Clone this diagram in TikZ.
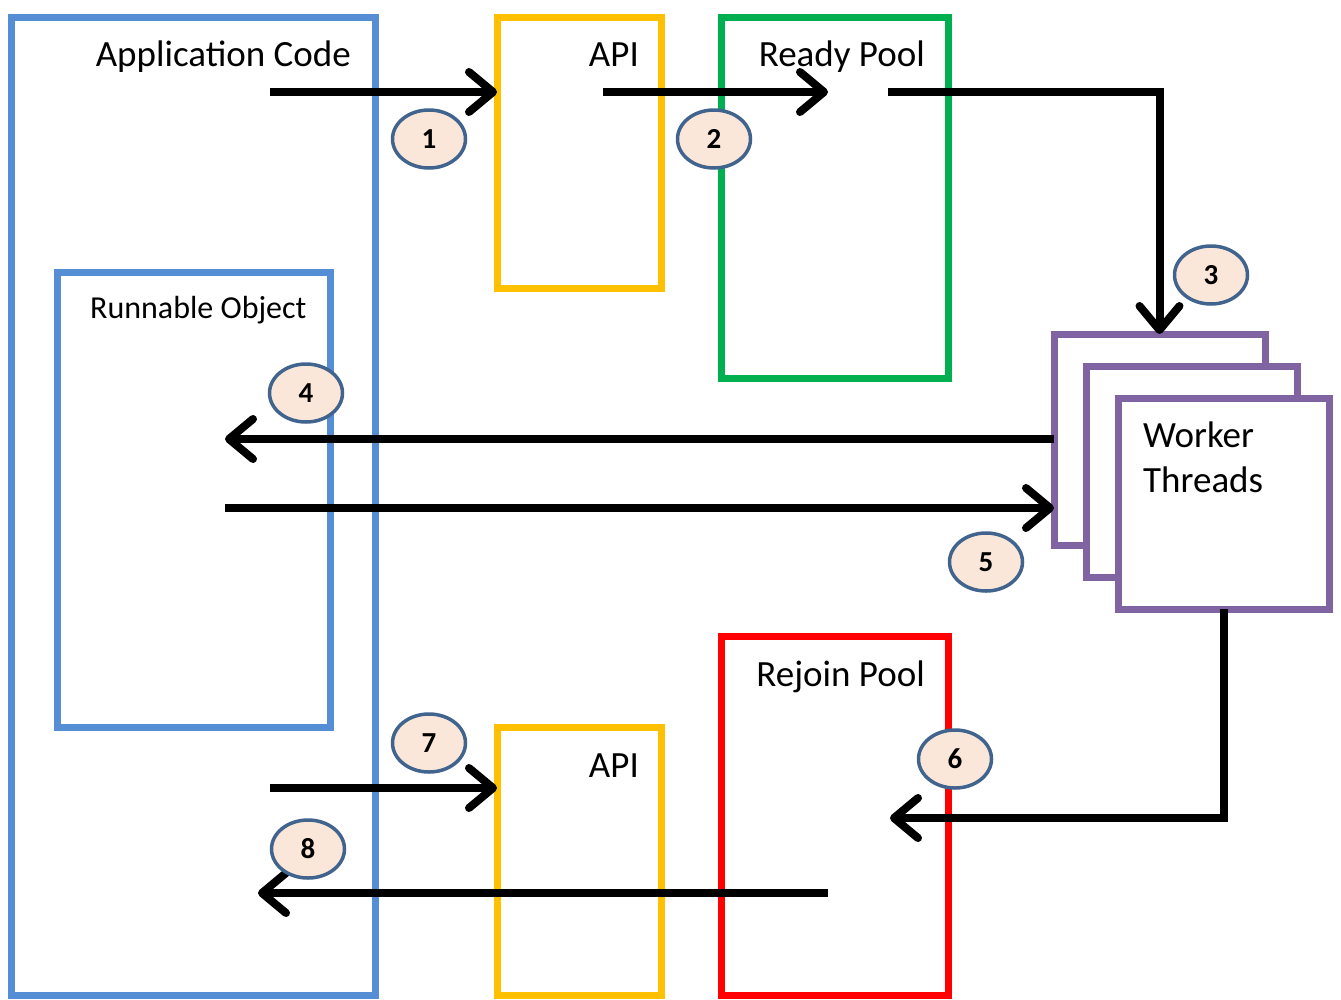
\documentclass[tikz,border=0pt]{standalone}
\usepackage{fontspec}
\setmainfont{Carlito}
\usetikzlibrary{arrows.meta,positioning,shapes.geometric}
\definecolor{appblue}{HTML}{558ED5}
\definecolor{apiyellow}{HTML}{FFC000}
\definecolor{poolgreen}{HTML}{00B050}
\definecolor{poolred}{HTML}{FF0000}
\definecolor{workpurple}{HTML}{8064A2}
\definecolor{badgeline}{HTML}{41648F}
\definecolor{badgefill}{HTML}{FBE7D9}
\tikzset{
  box/.style={draw, line width=7pt, outer sep=0pt, inner sep=0pt, anchor=north west},
  flow/.style={line width=8pt, -{Straight Barb[length=24pt, width=40pt, round]}},
  badge/.style={ellipse, draw=badgeline, fill=badgefill, line width=3.5pt, inner sep=0pt,
    minimum width=73pt, minimum height=58pt, font=\fontsize{29}{29}\selectfont\bfseries},
  title/.style={inner sep=0pt, font=\fontsize{37}{45}\selectfont}
}
\begin{document}
\begin{tikzpicture}[x=1pt,y=-1pt]
\useasboundingbox (0,0) rectangle (1341,999);
% boxes
\node[box, draw=appblue, minimum width=364pt, minimum height=978pt] (app) at (11,17) {};
\node[box, draw=appblue, minimum width=273pt, minimum height=455pt] (run) at (57,272) {};
\node[box, draw=apiyellow, minimum width=164pt, minimum height=271pt] (api1) at (497,17) {};
\node[box, draw=poolgreen, minimum width=227pt, minimum height=361pt] (ready) at (721,17) {};
\node[box, draw=apiyellow, minimum width=164pt, minimum height=268pt] (api2) at (497,727) {};
\node[box, draw=poolred, minimum width=227pt, minimum height=359pt] (rejoin) at (721,636) {};
\node[box, draw=workpurple, fill=white, minimum width=211pt, minimum height=211pt] (wt1) at (1054,334) {};
\node[box, draw=workpurple, fill=white, minimum width=211pt, minimum height=211pt] (wt2) at (1086,366) {};
\node[box, draw=workpurple, fill=white, minimum width=211pt, minimum height=211pt] (wt3) at (1118,398) {};
% labels
\node[title, anchor=base east] (tapp) at (351,66) {Application Code};
\node[title, anchor=base west, font=\fontsize{32}{36}\selectfont] (trun) at (90,318) {Runnable Object};
\node[title, anchor=base east] (tapi1) at (639,66) {API};
\node[title, anchor=base east] (tready) at (925,66) {Ready Pool};
\node[title, anchor=base east] (tapi2) at (639,777) {API};
\node[title, anchor=base east] (trejoin) at (925,686) {Rejoin Pool};
\node[title, anchor=base west, align=left] (twork) at (1143,492) {Worker\\Threads};
% flows
\coordinate (s1) at (270,92);
\coordinate (s2) at (603,92);
\coordinate (e2) at (828,92);
\coordinate (s3) at (888,92);
\coordinate (e4) at (225,439);
\coordinate (s5) at (225,508);
\coordinate (e6) at (890,818);
\coordinate (s7) at (270,788);
\coordinate (s8) at (828,893);
\coordinate (e8) at (258,893);
\draw[flow] (s1) -- (s1 -| api1.west);
\draw[flow] (s2) -- (e2);
\draw[flow] (s3) -| (wt1.north);
\draw[flow] (wt1.west |- e4) -- (e4);
\draw[flow] (s5) -- (s5 -| wt1.west);
\draw[flow] (wt3.south) |- (e6);
\draw[flow] (s7) -- (s7 -| api2.west);
\draw[flow] (s8) -- (e8);
% step numbers
\node[badge] (n1) at (429,139) {1};
\node[badge] (n2) at (714,139) {2};
\node[badge] (n3) at (1211,275) {3};
\node[badge] (n4) at (306,393) {4};
\node[badge] (n5) at (986,562) {5};
\node[badge] (n6) at (955,759) {6};
\node[badge] (n7) at (429,743) {7};
\node[badge] (n8) at (308,849) {8};
\end{tikzpicture}
\end{document}
